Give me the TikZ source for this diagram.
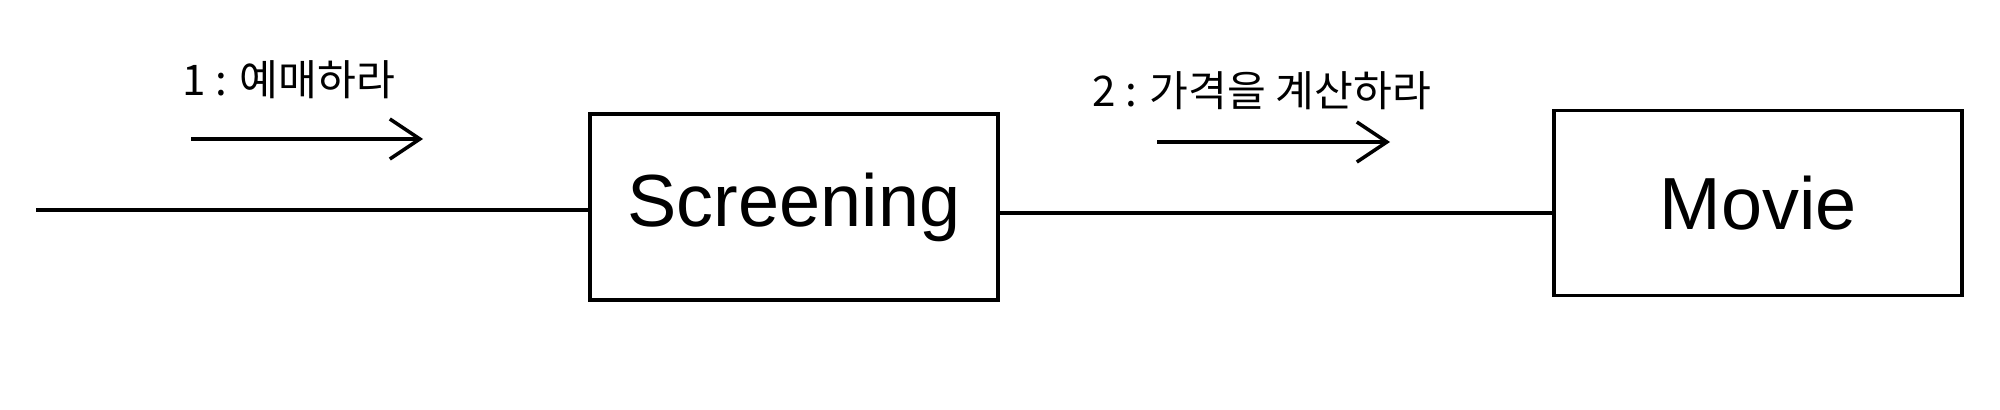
\documentclass[tikz,border=0pt]{standalone}
\usepackage{fontspec}
\setmainfont{Liberation Sans}
\newfontfamily\kr{Noto Sans CJK KR}
\usetikzlibrary{arrows.meta,positioning}

\begin{document}
\begin{tikzpicture}[x=0.01cm,y=-0.01cm,
  obj/.style={draw,line width=1pt,minimum width=4.08cm,minimum height=1.86cm,
              font=\fontsize{21}{25}\selectfont},
  lnk/.style={line width=1pt},
  msg/.style={line width=1pt,-{Straight Barb[length=3mm,width=4mm]}},
  lbl/.style={font=\kr\fontsize{12}{14}\selectfont}]
\useasboundingbox (0,0) rectangle (2000,409);
\node[obj] (scr) at (794,207) {Screening};
\node[obj,minimum height=1.85cm] (mov) at (1758,203) {Movie};
\coordinate (lft) at (36,210);
\coordinate (mid) at (1280,213);
\draw[lnk] (lft) -- (lft -| scr.west);
\draw[lnk] (scr.east |- mid) -- (mov.west |- mid);
% messages
\coordinate (m1s) at (191,139);
\coordinate (m1e) at (423,139);
\draw[msg] (m1s) -- (m1e);
\node[lbl] (m1) at (289,80) {1 : 예매하라};
\coordinate (m2s) at (1157,142);
\coordinate (m2e) at (1390,142);
\draw[msg] (m2s) -- (m2e);
\node[lbl] (m2) at (1262,91) {2 : 가격을 계산하라};
\end{tikzpicture}
\end{document}
